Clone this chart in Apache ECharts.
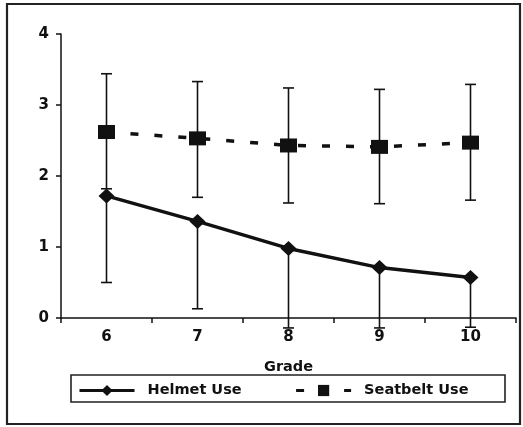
<!DOCTYPE html>
<html>
<head>
<meta charset="utf-8">
<script src="https://cdn.jsdelivr.net/npm/echarts@6/dist/echarts.min.js"></script>
<style>
html,body{margin:0;padding:0;background:#fff;}
#chart{width:523px;height:427px;}
</style>
</head>
<body>
<div id="chart"></div>
<script>
var grades = ['6', '7', '8', '9', '10'];
var helmet = [1.72, 1.36, 0.98, 0.71, 0.57];
var helmetLow = [0.50, 0.13, -0.14, -0.14, -0.13];
var seatbelt = [2.62, 2.53, 2.43, 2.41, 2.47];
var seatbeltLow = [1.82, 1.70, 1.62, 1.61, 1.66];
var seatbeltHigh = [3.44, 3.33, 3.24, 3.22, 3.29];
var yTicks = [0, 1, 2, 3, 4];

var FONT = 'DejaVu Sans';
var INK = '#111';

function errorRender(params, api) {
  var x = api.value(0);
  var lo = api.coord([x, api.value(1)]);
  var hi = api.coord([x, api.value(2)]);
  var capLo = api.value(3), capHi = api.value(4);
  var half = 5.5;
  var style = { stroke: INK, lineWidth: 1.6 };
  var children = [
    { type: 'line', shape: { x1: lo[0], y1: lo[1], x2: hi[0], y2: hi[1] }, style: style }
  ];
  if (capLo) children.push({ type: 'line', shape: { x1: lo[0] - half, y1: lo[1], x2: lo[0] + half, y2: lo[1] }, style: style });
  if (capHi) children.push({ type: 'line', shape: { x1: hi[0] - half, y1: hi[1], x2: hi[0] + half, y2: hi[1] }, style: style });
  return { type: 'group', children: children };
}

var helmetErr = grades.map(function (g, i) { return [i, helmetLow[i], helmet[i], 1, 0]; });
var seatErr = grades.map(function (g, i) { return [i, seatbeltLow[i], seatbeltHigh[i], 1, 1]; });

var chart = echarts.init(document.getElementById('chart'), null, { renderer: 'canvas' });
chart.setOption({
  animation: false,
  backgroundColor: '#fff',
  textStyle: { fontFamily: FONT, color: INK },
  grid: { left: 61, top: 34, right: 7, bottom: 109, containLabel: false },
  graphic: [
    { type: 'rect', shape: { x: 7, y: 4, width: 513, height: 420 }, style: { fill: 'none', stroke: '#222', lineWidth: 2.2 }, z: -1 },
    { type: 'rect', shape: { x: 71, y: 375, width: 434, height: 27 }, style: { fill: 'none', stroke: '#222', lineWidth: 1.6 }, z: -1 }
  ],
  legend: {
    left: 78, top: 383, padding: 0,
    itemWidth: 55, itemHeight: 14, itemGap: 53,
    lineStyle: { width: 3 },
    textStyle: { fontFamily: FONT, fontWeight: 'bold', fontSize: 14.5, color: INK, padding: [0, 0, 0, 8] },
    data: ['Helmet Use', 'Seatbelt Use']
  },
  xAxis: {
    type: 'category',
    data: grades,
    boundaryGap: true,
    name: 'Grade',
    nameLocation: 'middle',
    nameGap: 42,
    nameTextStyle: { fontFamily: FONT, fontWeight: 'bold', fontSize: 14.5, color: INK },
    axisLine: { lineStyle: { color: INK, width: 1.5 } },
    axisTick: { show: true, length: 5, inside: false, lineStyle: { color: INK, width: 1.5 } },
    axisLabel: { margin: 12, fontFamily: FONT, fontWeight: 'bold', fontSize: 15, color: INK },
    splitLine: { show: false }
  },
  yAxis: {
    type: 'value',
    min: yTicks[0], max: yTicks[yTicks.length - 1], interval: 1,
    axisLine: { show: true, lineStyle: { color: INK, width: 1.5 } },
    axisTick: { show: true, length: 5, inside: false, lineStyle: { color: INK, width: 1.5 } },
    axisLabel: { margin: 12, fontFamily: FONT, fontWeight: 'bold', fontSize: 15, color: INK },
    splitLine: { show: false }
  },
  series: [
    {
      name: 'Helmet Use', type: 'line', data: helmet,
      symbol: 'diamond', symbolSize: [16, 15],
      itemStyle: { color: INK },
      lineStyle: { color: INK, width: 3.5, type: 'solid' },
      z: 3
    },
    {
      name: 'Seatbelt Use', type: 'line', data: seatbelt,
      symbol: 'rect', symbolSize: [17, 14],
      itemStyle: { color: INK },
      lineStyle: { color: INK, width: 3.5, type: [8, 16] },
      z: 3
    },
    { name: 'helmetErr', type: 'custom', data: helmetErr, renderItem: errorRender, clip: false, z: 2, silent: true },
    { name: 'seatErr', type: 'custom', data: seatErr, renderItem: errorRender, clip: false, z: 2, silent: true }
  ]
});
</script>
</body>
</html>
